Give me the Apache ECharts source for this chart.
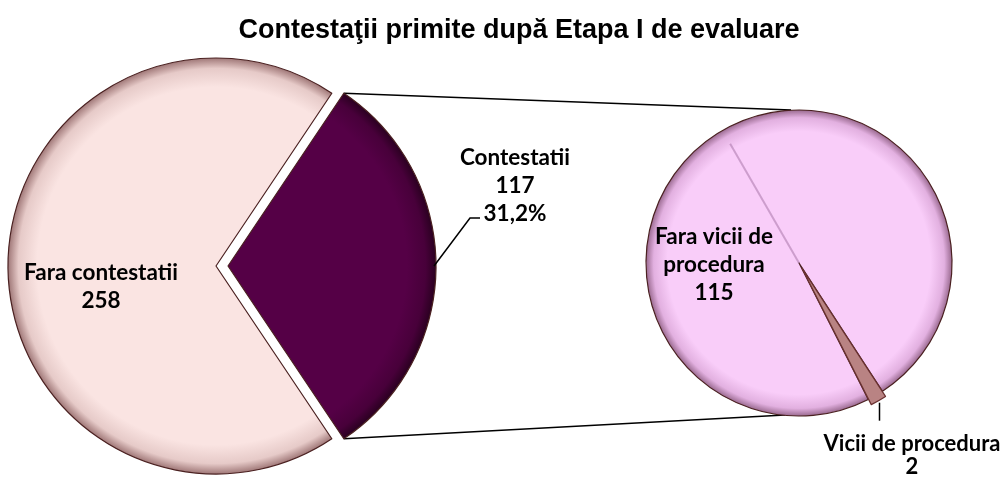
<!DOCTYPE html>
<html>
<head>
<meta charset="utf-8">
<script src="https://cdn.jsdelivr.net/npm/echarts@6/dist/echarts.min.js"></script>
<style>
  html, body { margin: 0; padding: 0; background: #fff; }
  #chart { width: 1008px; height: 481px; }
</style>
</head>
<body>
<div id="chart"></div>
<script>
    'use strict';

    var titleText = 'Contestaţii primite după Etapa I de evaluare';

    // main pie
    var mainNames  = ['Contestatii', 'Fara contestatii'];
    var mainValues = [117, 258];

    // breakdown of "Contestatii"
    var subNames  = ['Vicii de procedura', 'Fara vicii de procedura'];
    var subValues = [2, 115];

    // layout (px)
    var mainC = [216, 266], mainR = 208, explode = 12;
    var subC = [799, 263], subR = 153, subExplode = 6;
    var subAngle = -60; // direction of the small slice

    var labelFont = { fontFamily: 'Lato', fontWeight: 'bold', fontSize: 22.5, color: '#000', overflow: 'none' };

    var mainTotal = mainValues[0] + mainValues[1];
    var subTotal = subValues[0] + subValues[1];
    var mainHalf = mainValues[0] / mainTotal * 180;
    var subStart = subAngle + subValues[0] / subTotal * 180;

    function rad(d) { return d * Math.PI / 180; }

    function bevel(cx, cy, r, inner, edge, rim) {
        return {
            type: 'radial', x: cx, y: cy, r: r, global: true,
            colorStops: [
                { offset: 0, color: inner },
                { offset: 0.86, color: inner },
                { offset: 0.95, color: edge },
                { offset: 1, color: rim }
            ]
        };
    }

    var hidden = {
        itemStyle: { color: 'transparent', borderWidth: 0 },
        label: { show: false }
    };

    // one layer of a pie: only slice `shown` is visible, the other keeps its angle
    function layer(names, values, shown, item) {
        return names.map(function (n, i) {
            var d = { name: n, value: values[i] };
            var src = i === shown ? item : hidden;
            d.itemStyle = src.itemStyle;
            d.label = src.label;
            return d;
        });
    }

    var chart = echarts.init(document.getElementById('chart'));

    var mainC2 = [mainC[0] + explode, mainC[1]];
    var subC2 = [subC[0] + subExplode * Math.cos(rad(subAngle)), subC[1] - subExplode * Math.sin(rad(subAngle))];

    // connector lines from the exploded slice edges to the second pie
    var pTop = [mainC2[0] + mainR * Math.cos(rad(mainHalf)), mainC[1] - mainR * Math.sin(rad(mainHalf))];
    var pBot = [pTop[0], mainC[1] + mainR * Math.sin(rad(mainHalf))];
    var sTop = [subC[0] - 8, subC[1] - subR];
    var sBot = [subC[0] - 14, subC[1] + subR - 1];

    // leader lines for the two outside labels
    var edgeMain = [mainC2[0] + mainR - 2, mainC[1]];
    var edgeSub = [subC2[0] + subR * Math.cos(rad(subAngle)) + 1, subC2[1] - subR * Math.sin(rad(subAngle)) + 2];

    var line = { stroke: '#000', lineWidth: 1.5 };

    var base = {
        type: 'pie',
        radius: mainR,
        emphasis: { disabled: true },
        selectedMode: false,
        label: labelFont,
        labelLine: { show: false }
    };

    var option = {
        backgroundColor: '#fff',
        animation: false,
        title: {
            text: titleText,
            left: 514,
            top: 12,
            textAlign: 'center',
            textStyle: { fontFamily: 'Liberation Sans', fontWeight: 'bold', fontSize: 27, color: '#000' }
        },
        graphic: [
            { type: 'line', z: 0, shape: { x1: pTop[0], y1: pTop[1], x2: sTop[0], y2: sTop[1] }, style: line },
            { type: 'line', z: 0, shape: { x1: pBot[0], y1: pBot[1], x2: sBot[0], y2: sBot[1] }, style: line },
            {
                type: 'polyline', z: 10,
                shape: { points: [edgeMain, [edgeMain[0] + 36, 218], [edgeMain[0] + 46, 218]] },
                style: { stroke: '#000', lineWidth: 1.5, fill: null }
            },
            { type: 'line', z: 10, shape: { x1: edgeSub[0], y1: edgeSub[1], x2: edgeSub[0], y2: edgeSub[1] + 18 }, style: line },
            // bevel crease on the second pie
            {
                type: 'line', z: 10,
                shape: {
                    x1: subC[0] - subR * 0.9 * Math.cos(rad(subAngle)), y1: subC[1] + subR * 0.9 * Math.sin(rad(subAngle)),
                    x2: subC[0], y2: subC[1]
                },
                style: { stroke: 'rgba(150,100,150,0.45)', lineWidth: 2 }
            }
        ],
        series: [
            // Fara contestatii
            echarts.util.merge({
                center: mainC,
                startAngle: mainHalf,
                data: layer(mainNames, mainValues, 1, {
                    itemStyle: { color: bevel(mainC[0], mainC[1], mainR, '#fae4e2', '#e6cac8', '#a07878'), borderColor: '#4a2020', borderWidth: 1.2 },
                    label: { position: 'inside', formatter: '{b}\n{c}', lineHeight: 28 }
                }),
                labelLayout: function () {
                    return { x: 101, y: 287, align: 'center', verticalAlign: 'middle' };
                }
            }, base, false),
            // Contestatii (exploded)
            echarts.util.merge({
                center: mainC2,
                startAngle: mainHalf,
                data: layer(mainNames, mainValues, 0, {
                    itemStyle: { color: bevel(mainC2[0], mainC2[1], mainR, '#550046', '#48003a', '#2a0020'), borderColor: '#4a2020', borderWidth: 1.2 },
                    label: {
                        position: 'inside',
                        formatter: function (p) { return p.name + '\n' + p.value + '\n' + (p.value / mainTotal * 100).toFixed(1).replace('.', ',') + '%'; },
                        lineHeight: 28
                    }
                }),
                labelLayout: function () {
                    return { x: 515, y: 186, align: 'center', verticalAlign: 'middle' };
                }
            }, base, false),
            // Fara vicii de procedura
            echarts.util.merge({
                center: subC,
                radius: subR,
                startAngle: subStart,
                data: layer(subNames, subValues, 1, {
                    itemStyle: { color: bevel(subC[0], subC[1], subR, '#f9cdf9', '#e2b0e0', '#9a6a90'), borderColor: '#4a2020', borderWidth: 1.2 },
                    label: { position: 'inside', formatter: 'Fara vicii de\nprocedura\n{c}', lineHeight: 28 }
                }),
                labelLayout: function () {
                    return { x: subC[0] - 85, y: subC[1] + 2, align: 'center', verticalAlign: 'middle' };
                }
            }, base, false),
            // Vicii de procedura (exploded)
            echarts.util.merge({
                center: subC2,
                radius: subR,
                startAngle: subStart,
                data: layer(subNames, subValues, 0, {
                    itemStyle: { color: '#b98383', borderColor: '#6a3030', borderWidth: 1.2 },
                    label: { position: 'inside', formatter: '{b}\n{c}', lineHeight: 23, fontSize: 22 }
                }),
                labelLayout: function () {
                    return { x: 912, y: 455, align: 'center', verticalAlign: 'middle' };
                }
            }, base, false)
        ]
    };

    chart.setOption(option);

    window.addEventListener('resize', function () {
        chart.resize();
    });
</script>
</body>
</html>
